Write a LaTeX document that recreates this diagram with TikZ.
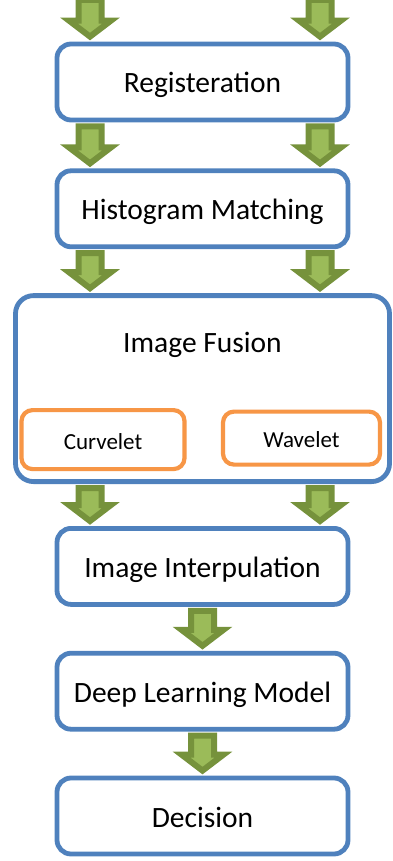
\documentclass[tikz,border=0pt]{standalone}
\usepackage{fontspec}
\setmainfont{Carlito}
\usetikzlibrary{positioning,calc}
\definecolor{boxblue}{HTML}{4F81BD}
\definecolor{suborange}{HTML}{F79646}
\definecolor{arrdark}{HTML}{76923C}
\definecolor{arrlight}{HTML}{9BBB59}
\tikzset{
  stage/.style={rectangle,draw=boxblue,fill=white,line width=4.8pt,rounded corners=14pt,
    minimum width=291pt,minimum height=76pt,align=center,text height=25pt,text depth=3pt,
    font=\fontsize{29.5}{33}\selectfont},
  sub/.style={rectangle,draw=suborange,fill=white,line width=4.2pt,rounded corners=11pt,
    align=center,text height=21pt,text depth=2pt,font=\fontsize{23}{26}\selectfont},
  blk/.style={draw=arrdark,fill=arrlight,line width=6pt,line join=miter,
    to path={($(\tikztostart)+(-11.5,-4)$) -- ($(\tikztotarget)+(-11.5,21)$)
      -- ($(\tikztotarget)+(-21,21)$) -- ($(\tikztotarget)+(0,5)$)
      -- ($(\tikztotarget)+(21,21)$) -- ($(\tikztotarget)+(11.5,21)$)
      -- ($(\tikztostart)+(11.5,-4)$) -- cycle}},
}
\begin{document}
\begin{tikzpicture}[x=1pt,y=1pt,node distance=46pt]
  \useasboundingbox (0,0) rectangle (393,-861);
  \node[stage] (reg) at (202.5,-82) {Registeration};
  \node[stage,below=of reg] (hist) {Histogram Matching};
  \node[stage,minimum width=374pt,minimum height=186pt,rounded corners=18pt,below=44pt of hist] (fusion) {};
  \node[font=\fontsize{29.5}{33}\selectfont] (fusiontxt) at ($(fusion.north)+(0,-52)$) {Image Fusion};
  \node[sub,minimum width=163pt,minimum height=59pt] (curv) at ($(fusion.center)+(-99.5,-51)$) {Curvelet};
  \node[sub,minimum width=157pt,minimum height=53pt] (wave) at ($(fusion.center)+(99,-49.5)$) {Wavelet};
  \node[stage,below=42pt of fusion] (interp) {Image Interpulation};
  \node[stage,below=44pt of interp] (dlm) {Deep Learning Model};
  \node[stage,below=44pt of dlm] (dec) {Decision};
  \coordinate (lx) at (90,4);
  \coordinate (rx) at (320,4);
  \draw[blk] (lx) to (reg.north -| lx);
  \draw[blk] (rx) to (reg.north -| rx);
  \draw[blk] (reg.south -| lx) to (hist.north -| lx);
  \draw[blk] (reg.south -| rx) to (hist.north -| rx);
  \draw[blk] (hist.south -| lx) to (fusion.north -| lx);
  \draw[blk] (hist.south -| rx) to (fusion.north -| rx);
  \draw[blk] (fusion.south -| lx) to (interp.north -| lx);
  \draw[blk] (fusion.south -| rx) to (interp.north -| rx);
  \draw[blk] (interp.south) to (dlm.north);
  \draw[blk] (dlm.south) to (dec.north);
\end{tikzpicture}
\end{document}
